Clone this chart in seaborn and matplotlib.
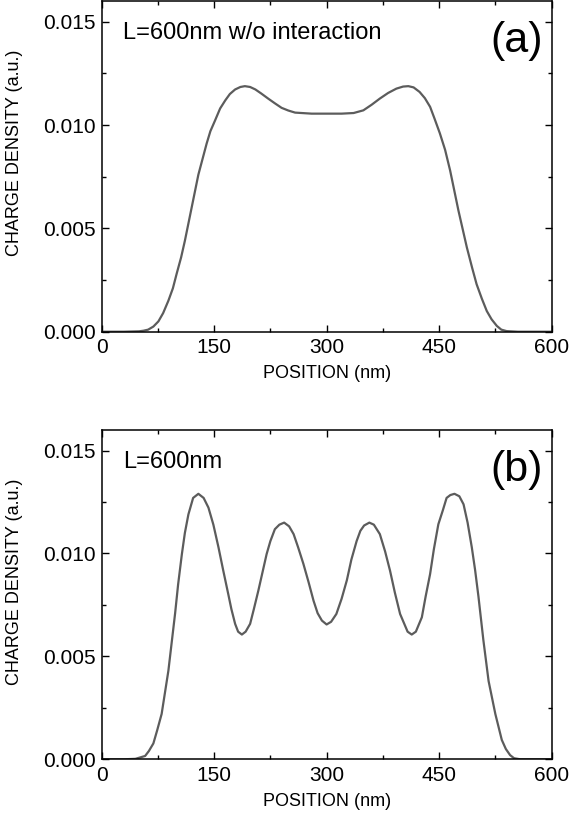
import numpy as np
import pandas as pd
import matplotlib
matplotlib.use("Agg")
import matplotlib.pyplot as plt
from matplotlib.ticker import MultipleLocator
import seaborn as sns

# Charge density: no interaction
pos_a = [0, 30, 50, 56, 62, 69, 75.7, 82, 89, 95, 100, 106, 111, 120, 129, 140, 145,
         151, 158, 165, 171, 178, 185, 191, 198, 205, 213, 222, 231, 240, 249, 258,
         280, 300, 320, 336, 349, 360, 371, 382, 393, 402, 409, 416, 424, 431, 438,
         444, 451, 458, 464.7, 475.8, 487, 494, 500, 507, 513.6, 520, 527, 533, 540,
         555, 600]
rho_a = [0, 0, 0.00002, 0.00005, 0.0001, 0.00025, 0.0005, 0.0009, 0.0015, 0.0021,
         0.0028, 0.0036, 0.0044, 0.0060, 0.0076, 0.0091, 0.0097, 0.0102, 0.0108, 0.0112,
         0.0115, 0.01172, 0.01184, 0.01188, 0.01184, 0.01172, 0.01152, 0.01128, 0.01105,
         0.01083, 0.0107, 0.0106, 0.01055, 0.01055, 0.01055, 0.01058, 0.01071, 0.01098,
         0.01128, 0.01155, 0.01176, 0.01186, 0.01188, 0.01182, 0.0116, 0.0113, 0.01088,
         0.0103, 0.0096, 0.0088, 0.0078, 0.00586, 0.00408, 0.0031, 0.0023, 0.0016,
         0.0010, 0.0006, 0.00028, 0.0001, 0.00003, 0, 0]

# Charge density: with interaction
pos_b = [0, 30, 45, 58, 63, 69, 74, 80, 89, 98, 102, 107, 111, 115.7, 122, 129, 136,
         142.4, 149, 155.8, 162, 169, 173, 178, 182, 187, 192, 198, 203, 209, 220, 225,
         231, 237, 243.4, 250, 256, 262, 269, 276, 282.6, 288, 293.7, 300, 306, 313,
         320, 327, 333, 340, 345, 350, 357, 363, 371, 378, 384.6, 391, 398, 408, 413.5,
         419, 427, 432, 438, 443, 449, 455, 460, 465, 470.5, 477, 482.6, 488, 493.6,
         498, 502.5, 509, 516, 525, 533.6, 539, 544.7, 550, 558, 600]
rho_b = [0, 0, 0.00002, 0.00016, 0.0004, 0.00077, 0.0014, 0.0022, 0.0043, 0.0071,
         0.0085, 0.00997, 0.0110, 0.0119, 0.0127, 0.0129, 0.0127, 0.01223, 0.0114,
         0.0103, 0.0092, 0.0080, 0.0073, 0.00658, 0.0062, 0.00606, 0.0062, 0.00658,
         0.0073, 0.0082, 0.00997, 0.0106, 0.01118, 0.0114, 0.0115, 0.01132, 0.01094,
         0.0103, 0.0095, 0.0086, 0.0077, 0.0071, 0.00674, 0.00655, 0.00668, 0.00706,
         0.0078, 0.0087, 0.0097, 0.0106, 0.0111, 0.01136, 0.0115, 0.0114, 0.01094,
         0.0101, 0.00916, 0.0081, 0.00706, 0.0062, 0.00606, 0.0062, 0.0069, 0.0079,
         0.0090, 0.0102, 0.01142, 0.0121, 0.0127, 0.01284, 0.0129, 0.01278, 0.01239,
         0.0115, 0.0103, 0.0092, 0.0079, 0.0058, 0.0038, 0.0022, 0.00094, 0.0005,
         0.0002, 0.00005, 0, 0]

panel_labels = ["(a)", "(b)"]
panel_notes = ["L=600nm w/o interaction", "L=600nm"]
x_ticks = [0, 150, 300, 450, 600]
y_ticks = [0.000, 0.005, 0.010, 0.015]

sns.set_style("ticks")
plt.rcParams["font.family"] = ["Liberation Sans", "DejaVu Sans"]
plt.rcParams["text.color"] = "black"
plt.rcParams["axes.labelcolor"] = "black"
plt.rcParams["xtick.color"] = "black"
plt.rcParams["ytick.color"] = "black"

fig = plt.figure(figsize=(5.71, 8.26), dpi=100)
ax_a = fig.add_axes([0.178, 0.5984, 0.788, 0.4004])
ax_b = fig.add_axes([0.178, 0.0808, 0.788, 0.3986])

data = [pd.DataFrame({"pos": pos_a, "rho": rho_a}),
        pd.DataFrame({"pos": pos_b, "rho": rho_b})]

for ax, df, lab, note in zip([ax_a, ax_b], data, panel_labels, panel_notes):
    line = sns.lineplot(data=df, x="pos", y="rho", ax=ax, color="#5c5c5c", linewidth=1.6,
                        estimator=None, sort=False)
    ax.lines[0].set_solid_joinstyle("round")
    ax.set_xlim(0, 600)
    ax.set_ylim(0, 0.016)
    ax.set_xticks(x_ticks)
    ax.set_yticks(y_ticks)
    ax.set_yticklabels([f"{v:.3f}" for v in y_ticks])
    ax.xaxis.set_minor_locator(MultipleLocator(75))
    ax.yaxis.set_minor_locator(MultipleLocator(0.0025))
    ax.tick_params(which="both", direction="in", top=True, right=True,
                   width=1.0, labelsize=15, pad=4.5, color="black")
    ax.tick_params(which="major", length=5)
    ax.tick_params(which="minor", length=3)
    for sp in ax.spines.values():
        sp.set_visible(True)
        sp.set_linewidth(1.1)
        sp.set_color("black")
    ax.set_xlabel("POSITION (nm)", fontsize=13, labelpad=6)
    ax.set_ylabel("CHARGE DENSITY (a.u.)", fontsize=13)
    ax.yaxis.set_label_coords(-0.175, 0.54)
    ax.text(0.048, 0.885, note, transform=ax.transAxes, fontsize=17,
            ha="left", va="baseline")
    ax.text(0.981, 0.88, lab, transform=ax.transAxes, fontsize=31,
            ha="right", va="center")

fig.savefig("out.png", dpi=100)
